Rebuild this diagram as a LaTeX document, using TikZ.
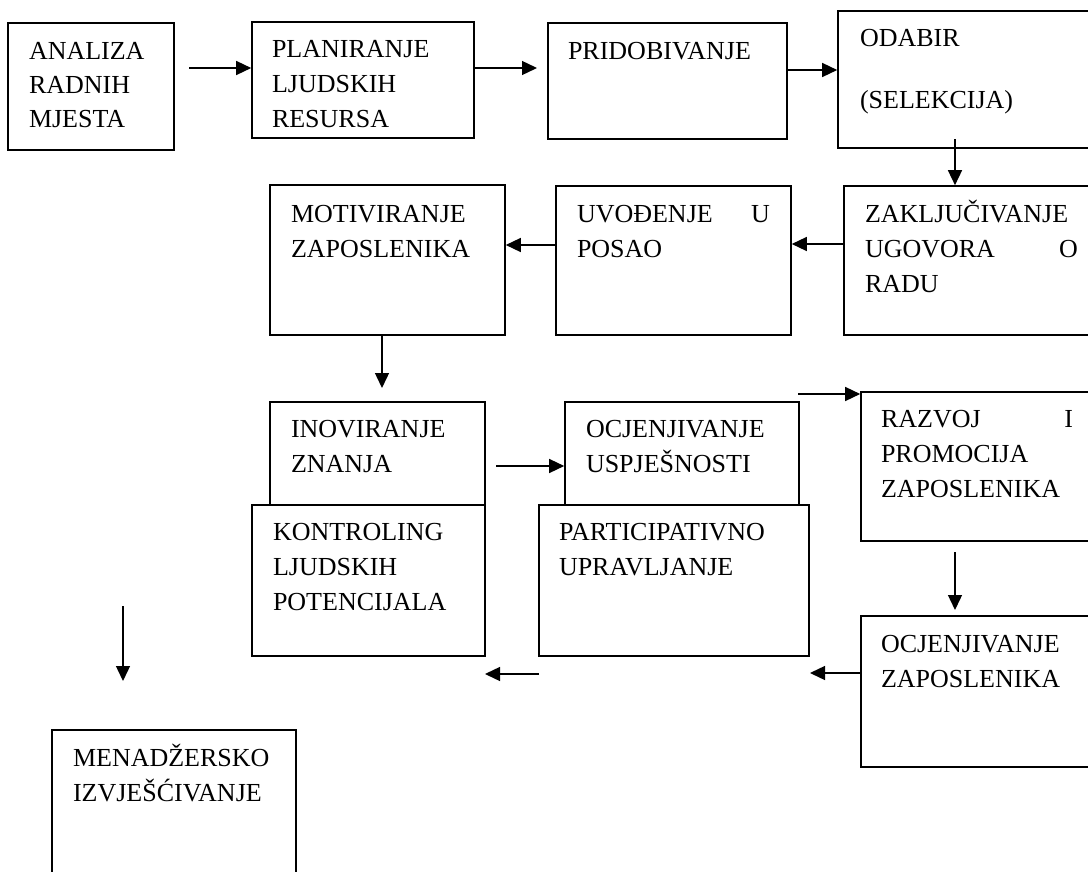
\documentclass[tikz,border=0pt]{standalone}
\usepackage{fontspec}
\setmainfont{Liberation Serif}
\usetikzlibrary{fit,arrows.meta}
\tikzset{
  box/.style={draw=black, line width=1.6bp, inner sep=0pt, fill=none},
  txt/.style={anchor=base west, inner sep=0pt, outer sep=0pt, align=left,
    text width=260bp, font=\fontsize{26bp}{35bp}\selectfont},
  arr/.style={draw=black, line width=1.4bp, -{Triangle[length=15bp,width=14bp]}}
}
\begin{document}
\begin{tikzpicture}[x=1bp,y=-1bp]
\useasboundingbox (0,0) rectangle (1088,872);
\clip (0,0) rectangle (1088,872);
% boxes
\node[box, fit={(8,23)(174,150)}] (ana) {};
\node[box, fit={(252,22)(474,138)}] (pla) {};
\node[box, fit={(548,23)(787,139)}] (pri) {};
\node[box, fit={(838,11)(1096,148)}] (oda) {};
\node[box, fit={(844,186)(1096,335)}] (zak) {};
\node[box, fit={(556,186)(791,335)}] (uvo) {};
\node[box, fit={(270,185)(505,335)}] (mot) {};
\node[box, fit={(270,402)(485,505)}] (ino) {};
\node[box, fit={(252,505)(485,656)}] (kon) {};
\node[box, fit={(565,402)(799,505)}] (ocu) {};
\node[box, fit={(539,505)(809,656)}] (par) {};
\node[box, fit={(861,392)(1096,541)}] (raz) {};
\node[box, fit={(861,616)(1096,767)}] (ocz) {};
\node[box, fit={(52,730)(296,890)}] (men) {};
% texts
\node[txt] (ana-t) at (29,59) {ANALIZA\\[-1bp]RADNIH\\[-1bp]MJESTA};
\node[txt] (pla-t) at (272,57) {PLANIRANJE\\LJUDSKIH\\RESURSA};
\node[txt] (pri-t) at (568,59) {PRIDOBIVANJE};
\node[txt] (oda-t) at (860,46) {ODABIR\\[27bp](SELEKCIJA)};
\node[txt, text width=213bp] (zak-t) at (865,222) {ZAKLJUČIVANJE\\UGOVORA\hfill O\\RADU};
\node[txt, text width=193bp] (uvo-t) at (577,222) {UVOĐENJE\hfill U\\POSAO};
\node[txt] (mot-t) at (291,222) {MOTIVIRANJE\\ZAPOSLENIKA};
\node[txt] (ino-t) at (291,437) {INOVIRANJE\\ZNANJA};
\node[txt] (ocu-t) at (586,437) {OCJENJIVANJE\\USPJEŠNOSTI};
\node[txt] (kon-t) at (273,540) {KONTROLING\\LJUDSKIH\\POTENCIJALA};
\node[txt] (par-t) at (559,540) {PARTICIPATIVNO\\UPRAVLJANJE};
\node[txt, text width=192bp] (raz-t) at (881,427) {RAZVOJ\hfill I\\PROMOCIJA\\ZAPOSLENIKA};
\node[txt] (ocz-t) at (881,652) {OCJENJIVANJE\\ZAPOSLENIKA};
\node[txt] (men-t) at (73,766) {MENADŽERSKO\\IZVJEŠĆIVANJE};
% free arrow ends
\coordinate (c1) at (189,68);
\coordinate (c2) at (537,68);
\coordinate (c3) at (787,70);
\coordinate (c4) at (955,139);
\coordinate (c5) at (844,244);
\coordinate (c6) at (556,245);
\coordinate (c7) at (382,388);
\coordinate (c8) at (496,466);
\coordinate (c9) at (798,394);
\coordinate (c10a) at (955,552);
\coordinate (c10b) at (955,610);
\coordinate (c11) at (810,673);
\coordinate (c12a) at (539,674);
\coordinate (c12b) at (485,674);
\coordinate (c13a) at (123,606);
\coordinate (c13b) at (123,681);
% arrows
\draw[arr] (c1) -- (c1 -| pla.west);
\draw[arr] (c2 -| pla.east) -- (c2);
\draw[arr] (c3 -| pri.east) -- (c3 -| oda.west);
\draw[arr] (c4) -- (c4 |- zak.north);
\draw[arr] (c5 -| zak.west) -- (c5 -| uvo.east);
\draw[arr] (c6 -| uvo.west) -- (c6 -| mot.east);
\draw[arr] (c7 |- mot.south) -- (c7);
\draw[arr] (c8) -- (c8 -| ocu.west);
\draw[arr] (c9) -- (c9 -| raz.west);
\draw[arr] (c10a) -- (c10b);
\draw[arr] (c11 -| ocz.west) -- (c11);
\draw[arr] (c12a) -- (c12b);
\draw[arr] (c13a) -- (c13b);
\end{tikzpicture}
\end{document}
